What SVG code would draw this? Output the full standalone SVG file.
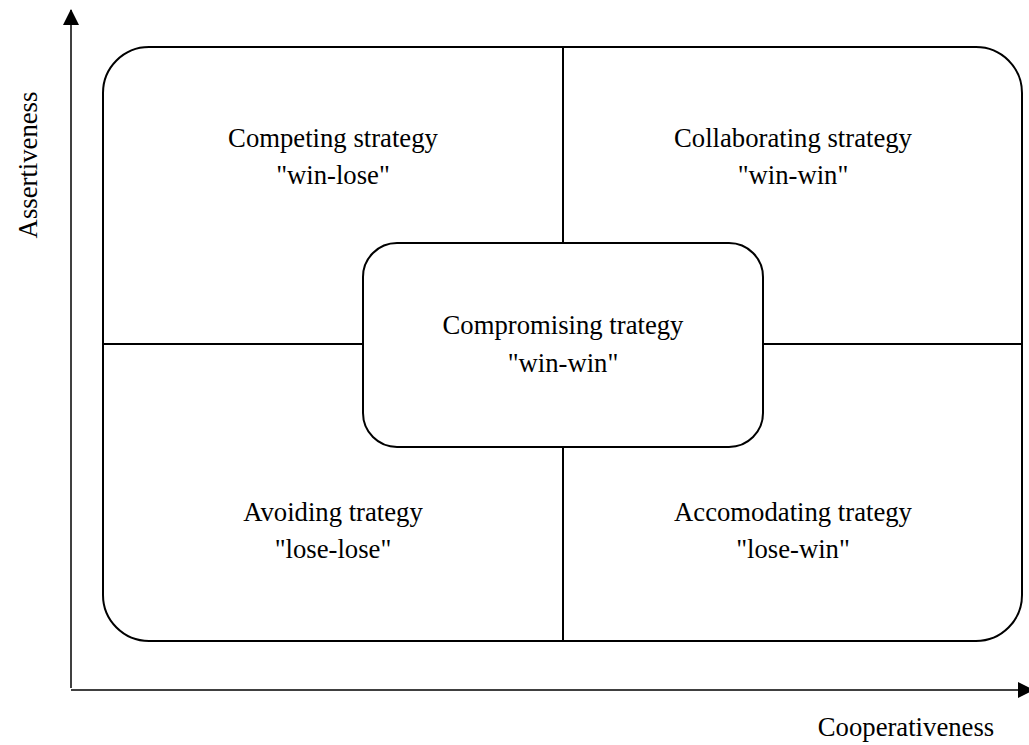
<svg xmlns="http://www.w3.org/2000/svg" width="1029" height="745" viewBox="0 0 1029 745">
<style>
text{font-family:"Liberation Serif","Times New Roman",serif;font-size:26.7px;fill:#000;text-anchor:middle}
.ln{stroke:#000;stroke-width:2;fill:none}
.ax{stroke:#000;stroke-width:1.5;fill:none}
</style>
<defs>
<marker id="ah2" viewBox="0 0 16 16" refX="15" refY="8" markerWidth="16" markerHeight="16" markerUnits="userSpaceOnUse" orient="auto"><path d="M0,0 L16,8 L0,16 z" fill="#000"/></marker>
</defs>
<g id="connectors">
<line class="ax" x1="71" y1="688" x2="71" y2="10" marker-end="url(#ah2)"/>
<line class="ax" x1="71" y1="690" x2="1033" y2="690" marker-end="url(#ah2)"/>
<line class="ln" x1="563" y1="47" x2="563" y2="243"/>
<line class="ln" x1="563" y1="447" x2="563" y2="641"/>
<line class="ln" x1="103" y1="344" x2="363" y2="344"/>
<line class="ln" x1="763" y1="344" x2="1022" y2="344"/>
</g>
<g id="frame">
<rect class="ln" x="103" y="47" width="919" height="594" rx="46" ry="46"/>
</g>
<g id="competing"><text x="333" y="147">Competing strategy</text><text x="333" y="184">"win-lose"</text></g>
<g id="collaborating"><text x="793" y="147">Collaborating strategy</text><text x="793" y="184">"win-win"</text></g>
<g id="avoiding"><text x="333" y="521">Avoiding trategy</text><text x="333" y="558">"lose-lose"</text></g>
<g id="accomodating"><text x="793" y="521">Accomodating trategy</text><text x="793" y="558">"lose-win"</text></g>
<g id="compromising">
<rect class="ln" x="363" y="243" width="400" height="204" rx="34" ry="34" fill="#fff"/>
<text x="563" y="334">Compromising trategy</text><text x="563" y="372">"win-win"</text>
</g>
<g id="labels">
<text transform="translate(37,165) rotate(-90)">Assertiveness</text>
<text x="906" y="736">Cooperativeness</text>
</g>
</svg>
